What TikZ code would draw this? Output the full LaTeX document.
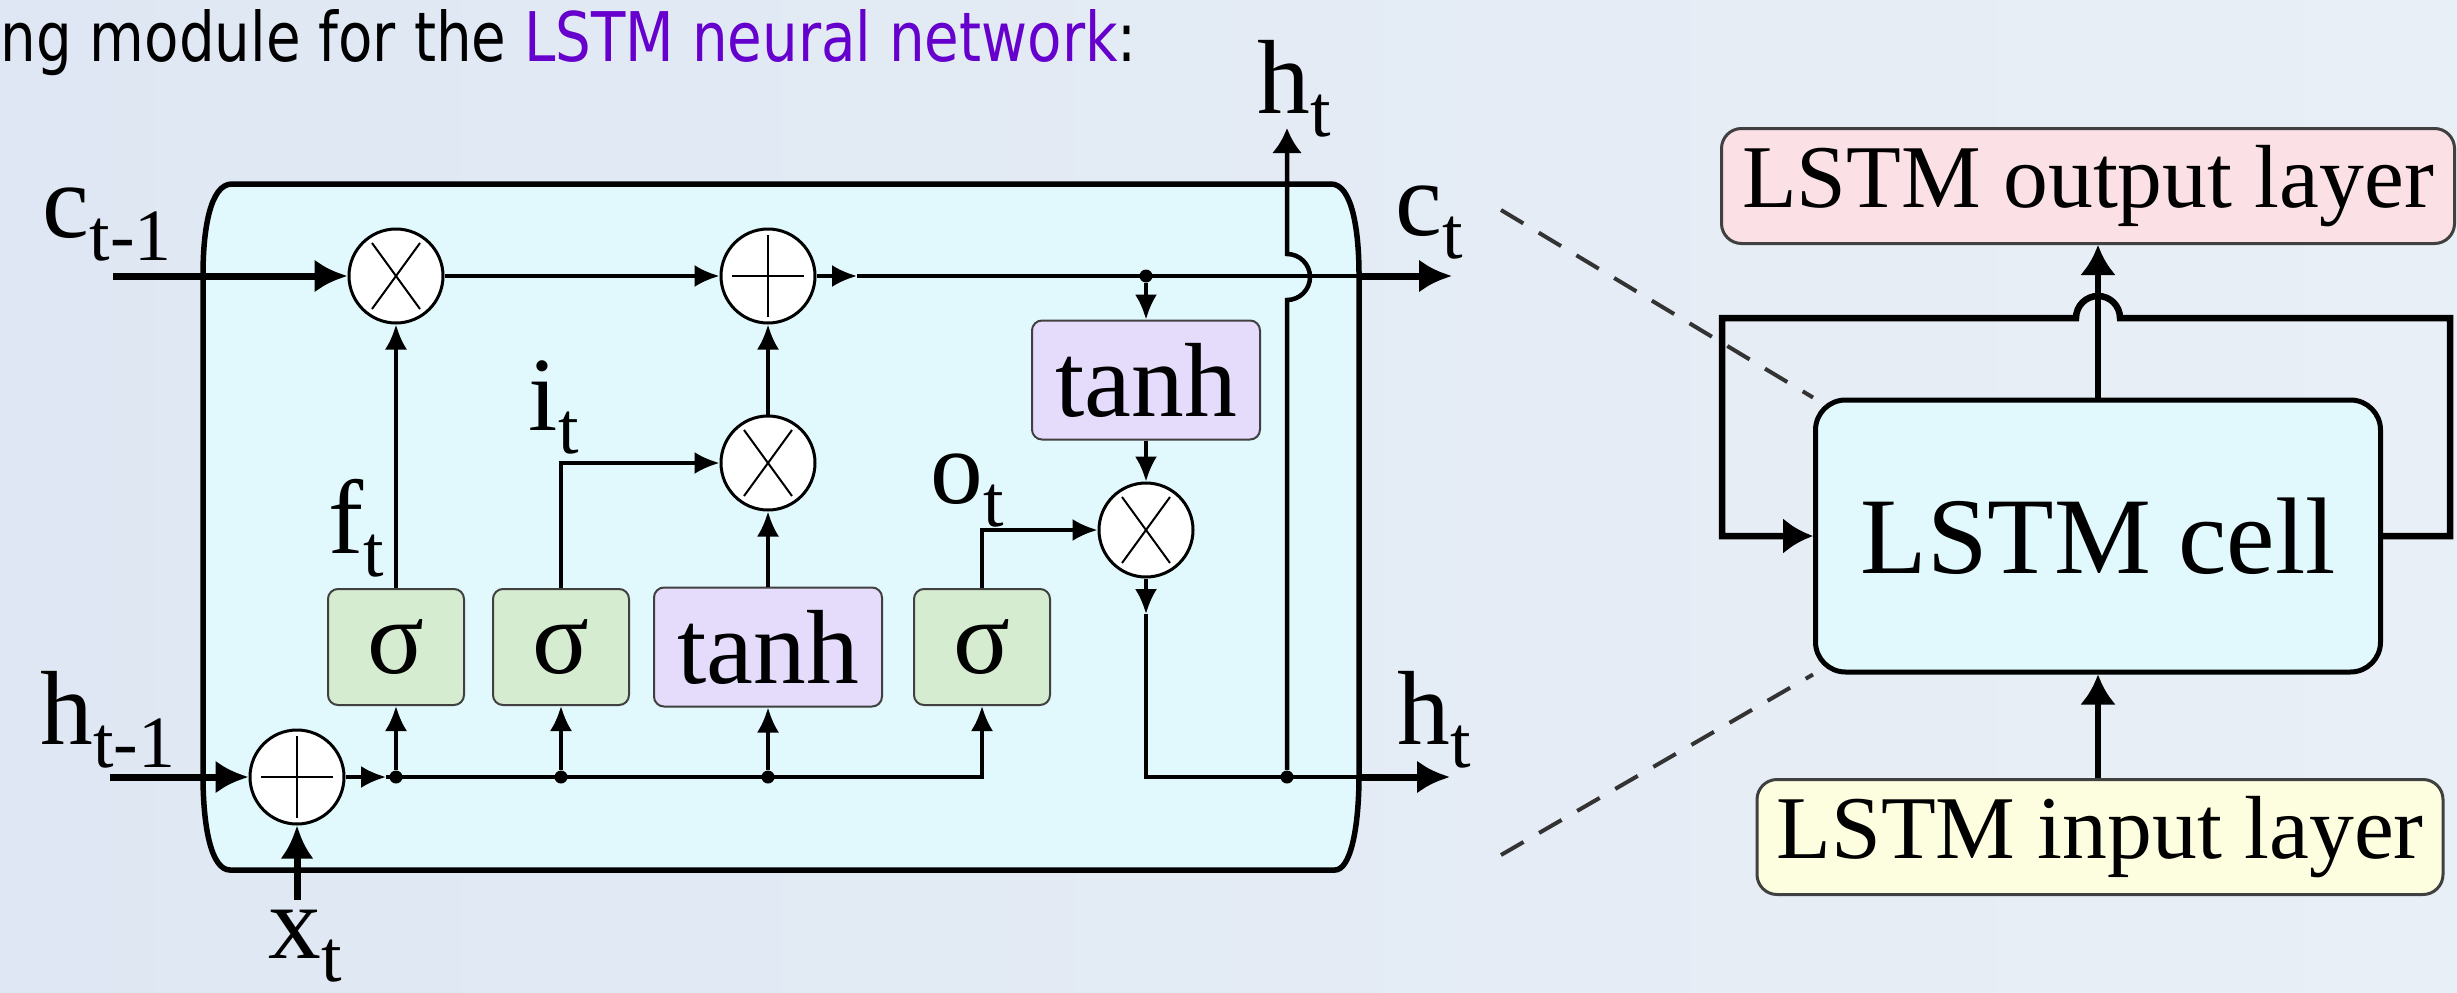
\documentclass[tikz,border=0pt]{standalone}
\usepackage{fontspec}
\usepackage{graphicx}
\setmainfont{Liberation Serif}
\newfontfamily\titlefont{DejaVu Sans}
\usetikzlibrary{arrows.meta}
\definecolor{bgl}{RGB}{222,231,243}
\definecolor{bgm}{RGB}{240,244,249}
\definecolor{bgr}{RGB}{233,239,246}
\definecolor{cellcyan}{RGB}{225,249,252}
\definecolor{siggreen}{RGB}{214,236,208}
\definecolor{tanhlilac}{RGB}{229,219,250}
\definecolor{outpink}{RGB}{251,225,230}
\definecolor{inyellow}{RGB}{253,253,223}
\definecolor{lstmpurple}{RGB}{102,0,204}
\newcommand{\sbs}[2]{#1\raisebox{-0.22em}{\fontsize{21}{24}\selectfont#2}}
\tikzset{
  gate/.style={draw=black!75,line width=0.2mm,rounded corners=1mm,fill=siggreen,
    minimum width=13.6mm,minimum height=11.6mm,inner sep=0pt,font=\fontsize{30}{36}\selectfont},
  tbox/.style={gate,fill=tanhlilac,minimum width=22.8mm,minimum height=11.9mm},
  op/.style={circle,draw,line width=0.3mm,fill=white,minimum size=9.4mm,inner sep=0pt},
  mul/.style={op,path picture={\draw[line width=0.2mm]
    (path picture bounding box.center) ++(-2.4mm,-3.3mm) -- ++(4.8mm,6.6mm)
    ++(-4.8mm,0mm) -- ++(4.8mm,-6.6mm);}},
  add/.style={op,path picture={\draw[line width=0.2mm]
    (path picture bounding box.center) ++(-3.6mm,0mm) -- ++(7.2mm,0mm)
    ++(-3.6mm,-4.1mm) -- ++(0mm,8.2mm);}},
  dot/.style={circle,fill,inner sep=0pt,minimum size=1.3mm},
  lbl/.style={anchor=base west,inner sep=0pt,font=\fontsize{30}{36}\selectfont},
  layer/.style={draw=black!75,line width=0.3mm,rounded corners=2mm,minimum height=11.5mm,
    inner sep=0pt,font=\fontsize{25.5}{30}\selectfont},
  link/.style={line width=0.35mm,-{Latex[length=2.5mm,width=2.2mm]}},
  mainline/.style={line width=0.45mm},
  bigarrow/.style={line width=0.7mm,-{Latex[length=3.3mm,width=3.3mm]}},
  rline/.style={line width=0.65mm},
  rarrow/.style={rline,-{Latex[length=3mm,width=3.6mm]}},
  zoomline/.style={line width=0.4mm,black!80,dash pattern=on 2.6mm off 1.8mm}
}
\begin{document}
\begin{tikzpicture}[x=0.1mm,y=-0.1mm]
\useasboundingbox (0,0) rectangle (2457,992);
\shade[left color=bgl,middle color=bgm,right color=bgr] (0,0) rectangle (2457,992);
\node[anchor=base west,inner sep=0pt] (title) at (0,61) {\resizebox{113.6mm}{5.2mm}{\titlefont ng module for the \textcolor{lstmpurple}{LSTM neural network}:}};

\draw[line width=0.55mm,fill=cellcyan] (232,184) -- (1331,184) .. controls (1352,184) and (1359,230) .. (1359,275)
  -- (1359,775) .. controls (1359,830) and (1350,870) .. (1335,870) -- (230,870)
  .. controls (212,870) and (203,830) .. (203,775) -- (203,275) .. controls (203,230) and (210,184) .. (232,184) -- cycle;

\node[gate] (sf) at (396,647) {σ};
\node[gate] (si) at (561,647) {σ};
\node[tbox] (tg) at (768,647) {tanh};
\node[gate] (so) at (982,647) {σ};
\node[tbox] (tc) at (1146,380) {tanh};
\node[mul] (mf) at (396,276) {};
\node[add] (ac) at (768,276) {};
\node[mul] (mi) at (768,463) {};
\node[mul] (mo) at (1146,530) {};
\node[add] (ah) at (297,777) {};
\node[dot] (d1) at (396,777) {};
\node[dot] (d2) at (561,777) {};
\node[dot] (d3) at (768,777) {};
\node[dot] (dc) at (1146,276) {};
\node[dot] (dh) at (1287,777) {};

\coordinate (cin) at (113,276);
\coordinate (cmid) at (857,276);
\coordinate (cedge) at (1359,276);
\coordinate (cout) at (1452,276);
\coordinate (hin) at (110,777);
\coordinate (xin) at (297,900);
\coordinate (hj) at (386,777);
\coordinate (hdown) at (1146,614);
\coordinate (hcorner) at (1146,777);
\coordinate (hedge) at (1359,777);
\coordinate (hout) at (1450,777);
\coordinate (htop) at (1287,128);

\draw[bigarrow] (cin) -- (mf);
\draw[link] (mf) -- (ac);
\draw[link] (ac) -- (cmid);
\draw[mainline] (cmid) -- (cedge);
\draw[bigarrow] (cedge) -- (cout);
\draw[link] (dc) -- (tc);
\draw[link] (tc) -- (mo);
\draw[bigarrow] (hin) -- (ah);
\draw[bigarrow] (xin) -- (ah);
\draw[link] (ah) -- (hj);
\draw[link] (hj) -| (so);
\draw[link] (d1) -- (sf);
\draw[link] (d2) -- (si);
\draw[link] (d3) -- (tg);
\draw[link] (sf) -- (mf);
\draw[link] (si) |- (mi);
\draw[link] (tg) -- (mi);
\draw[link] (mi) -- (ac);
\draw[link] (so) |- (mo);
\draw[link] (mo) -- (hdown);
\draw[mainline] (hdown) -- (hcorner) -- (hedge);
\draw[bigarrow] (hedge) -- (hout);
\draw[mainline,-{Latex[length=2.5mm,width=3mm]}] (dh) -- (1287,300) arc[start angle=90,end angle=-90,radius=23] -- (htop);

\node[lbl] (lcprev) at (42,237) {\sbs{c}{t-1}};
\node[lbl] (lhprev) at (40,744) {\sbs{h}{t-1}};
\node[lbl] (lft) at (328,553) {\sbs{f}{t}};
\node[lbl] (lit) at (528,430) {\sbs{i}{t}};
\node[lbl] (lot) at (930,503) {\sbs{o}{t}};
\node[lbl] (lhtop) at (1257,113) {\sbs{h}{t}};
\node[lbl] (lct) at (1395,235) {\sbs{c}{t}};
\node[lbl] (lht) at (1397,744) {\sbs{h}{t}};
\node[lbl] (lxt) at (268,958) {\sbs{x}{t}};

\node[layer,fill=outpink,minimum width=73.3mm] (outl) at (2088,186) {LSTM output layer};
\node[layer,fill=cellcyan,draw=black,line width=0.5mm,rounded corners=3mm,minimum width=56.5mm,
  minimum height=27.2mm,font=\fontsize{31}{36}\selectfont] (cell) at (2098,536) {LSTM cell};
\node[layer,fill=inyellow,minimum width=68.6mm] (inl) at (2100,837) {LSTM input layer};
\coordinate (lpl) at (1722,318);
\coordinate (lpr) at (2450,318);
\coordinate (zt) at (1501,210);
\coordinate (zb) at (1501,855);
\draw[rarrow] (cell |- inl.north) -- (cell.south);
\draw[rarrow] (cell.north) -- (cell.north |- outl.south);
\draw[rarrow] (cell.east) -- (cell.east -| lpr) -- (lpr) -- (2120,318) arc[start angle=0,end angle=-180,radius=22]
  -- (lpl) |- (cell.west);
\draw[zoomline] (zt) -- (cell.north west);
\draw[zoomline] (zb) -- (cell.south west);
\end{tikzpicture}
\end{document}
